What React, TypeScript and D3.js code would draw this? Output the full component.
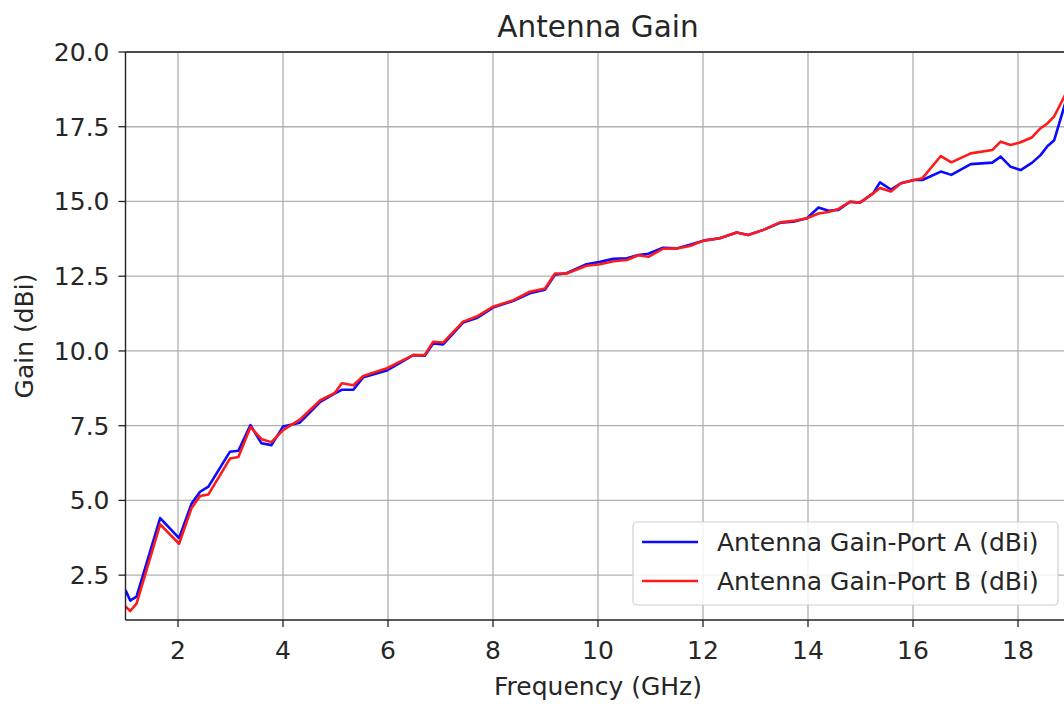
import React from "react";
import * as d3 from "d3";

const freqGHz = [1.0, 1.09, 1.21, 1.66, 2.02, 2.26, 2.42, 2.58, 2.99, 3.15, 3.38, 3.59, 3.78, 4.0, 4.32, 4.71, 4.99, 5.12, 5.34, 5.53, 5.98, 6.23, 6.48, 6.7, 6.86, 7.05, 7.43, 7.69, 8.0, 8.39, 8.7, 8.99, 9.18, 9.4, 9.78, 10.04, 10.29, 10.55, 10.77, 10.96, 11.24, 11.5, 11.75, 12.01, 12.32, 12.64, 12.86, 13.15, 13.47, 13.72, 13.98, 14.2, 14.39, 14.58, 14.8, 14.99, 15.24, 15.37, 15.58, 15.77, 16.02, 16.18, 16.53, 16.73, 17.1, 17.51, 17.67, 17.86, 18.05, 18.27, 18.43, 18.56, 18.69, 18.88, 19.0];

const portA = [2.0, 1.65, 1.78, 4.41, 3.74, 4.9, 5.29, 5.46, 6.63, 6.66, 7.52, 6.91, 6.85, 7.47, 7.6, 8.3, 8.58, 8.7, 8.7, 9.12, 9.35, 9.6, 9.86, 9.84, 10.25, 10.22, 10.95, 11.1, 11.45, 11.68, 11.93, 12.05, 12.55, 12.6, 12.9, 12.98, 13.08, 13.1, 13.21, 13.25, 13.45, 13.43, 13.55, 13.69, 13.77, 13.96, 13.88, 14.05, 14.29, 14.32, 14.44, 14.8, 14.69, 14.72, 14.99, 14.96, 15.27, 15.64, 15.4, 15.61, 15.72, 15.72, 16.0, 15.89, 16.25, 16.3, 16.5, 16.16, 16.05, 16.3, 16.55, 16.85, 17.05, 18.17, 18.9];

const portB = [1.45, 1.3, 1.55, 4.2, 3.55, 4.75, 5.15, 5.2, 6.4, 6.45, 7.45, 7.05, 6.95, 7.35, 7.7, 8.35, 8.6, 8.92, 8.85, 9.16, 9.42, 9.64, 9.86, 9.86, 10.31, 10.28, 10.98, 11.15, 11.48, 11.7, 11.98, 12.09, 12.59, 12.59, 12.85, 12.9, 13.0, 13.04, 13.2, 13.15, 13.42, 13.43, 13.51, 13.69, 13.77, 13.96, 13.88, 14.05, 14.3, 14.35, 14.44, 14.6, 14.65, 14.75, 14.99, 14.96, 15.27, 15.45, 15.33, 15.61, 15.72, 15.78, 16.52, 16.31, 16.61, 16.72, 17.0, 16.89, 16.98, 17.15, 17.45, 17.61, 17.85, 18.5, 18.95];

const xTicks = [2, 4, 6, 8, 10, 12, 14, 16, 18];
const yTicks = [2.5, 5.0, 7.5, 10.0, 12.5, 15.0, 17.5, 20.0];
const seriesNames = ["Antenna Gain-Port A (dBi)", "Antenna Gain-Port B (dBi)"];
const seriesColors = ["#0a0aff", "#ff1a1a"];

export default function App() {
  const W = 1064, H = 704;
  const left = 125.5, right = 1070.5, top = 52, bottom = 620;
  const x = d3.scaleLinear().domain([1, 19]).range([left, right]);
  const y = d3.scaleLinear().domain([1, 20]).range([bottom, top]);
  const line = d3.line<number>().x((_, i) => x(freqGHz[i])).y((d) => y(d));
  const font = "'DejaVu Sans', Verdana, sans-serif";
  const series = [portA, portB];
  const fs = 25;
  return (
    <svg width={W} height={H} style={{ position: "absolute", left: 0, top: 0, background: "#fff" }} fontFamily={font}>
      <defs>
        <clipPath id="plotclip">
          <rect x={left} y={top} width={right - left} height={bottom - top} />
        </clipPath>
      </defs>
      <rect x={0} y={0} width={W} height={H} fill="#fff" />
      {xTicks.map((t) => (
        <line key={"gx" + t} x1={x(t)} x2={x(t)} y1={top} y2={bottom} stroke="#b0b0b0" strokeWidth={1.3} />
      ))}
      {yTicks.map((t) => (
        <line key={"gy" + t} x1={left} x2={right} y1={y(t)} y2={y(t)} stroke="#b0b0b0" strokeWidth={1.3} />
      ))}
      <g clipPath="url(#plotclip)">
        {series.map((s, i) => (
          <path key={i} d={line(s) || ""} fill="none" stroke={seriesColors[i]} strokeWidth={2.6} strokeLinejoin="round" />
        ))}
      </g>
      <line x1={left} x2={left} y1={top} y2={bottom} stroke="#222" strokeWidth={1.4} />
      <line x1={left} x2={right} y1={bottom} y2={bottom} stroke="#222" strokeWidth={1.4} />
      <line x1={left} x2={right} y1={top} y2={top} stroke="#222" strokeWidth={1.4} />
      <line x1={right} x2={right} y1={top} y2={bottom} stroke="#222" strokeWidth={1.4} />
      {xTicks.map((t) => (
        <g key={"tx" + t}>
          <line x1={x(t)} x2={x(t)} y1={bottom} y2={bottom + 7} stroke="#222" strokeWidth={1.3} />
          <text x={x(t)} y={bottom + 39} textAnchor="middle" fontSize={fs} fill="#262626">{t}</text>
        </g>
      ))}
      {yTicks.map((t) => (
        <g key={"ty" + t}>
          <line x1={left - 7} x2={left} y1={y(t)} y2={y(t)} stroke="#222" strokeWidth={1.3} />
          <text x={left - 16} y={y(t) + 9} textAnchor="end" fontSize={fs} fill="#262626">{t.toFixed(1)}</text>
        </g>
      ))}
      <text x={598} y={37} textAnchor="middle" fontSize={29.5} fill="#262626">Antenna Gain</text>
      <text x={598} y={695} textAnchor="middle" fontSize={fs} fill="#262626">Frequency (GHz)</text>
      <text transform={`translate(33, ${(top + bottom) / 2}) rotate(-90)`} textAnchor="middle" fontSize={fs} fill="#262626">Gain (dBi)</text>
      <rect x={633} y={522} width={425} height={83} rx={4} fill="#fff" fillOpacity={0.85} stroke="#d0d0d0" strokeWidth={1.2} />
      {seriesNames.map((n, i) => (
        <g key={n}>
          <line x1={642} x2={698} y1={542 + i * 39} y2={542 + i * 39} stroke={seriesColors[i]} strokeWidth={2.6} />
          <text x={717} y={551 + i * 39} fontSize={fs} fill="#262626">{n}</text>
        </g>
      ))}
    </svg>
  );
}
